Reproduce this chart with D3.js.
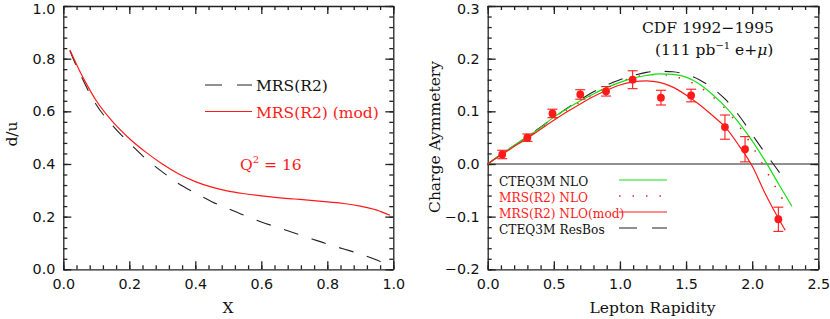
<!DOCTYPE html>
<html>
<head>
<meta charset="utf-8">
<script src="https://cdn.jsdelivr.net/npm/d3@7"></script>
<style>
  body { margin: 0; background: #fff; }
  svg text { font-family: "DejaVu Serif", serif; fill: #111; }
  .tick text { font-family: "DejaVu Sans", sans-serif; font-size: 14.3px; fill: #111; }
  .axis path, .axis line { stroke: #222; stroke-width: 1.3; }
</style>
</head>
<body>
<svg id="chart" width="830" height="319"></svg>
<script>
// ---------- left panel : d/u vs x ----------
var duX      = [0.02, 0.03, 0.05, 0.075, 0.10, 0.15, 0.20, 0.25, 0.30, 0.35, 0.40, 0.45,
                0.50, 0.55, 0.60, 0.65, 0.70, 0.75, 0.80, 0.85, 0.90, 0.95, 0.99];
var duMRS    = [0.830, 0.800, 0.745, 0.680, 0.625, 0.545, 0.480, 0.420, 0.370, 0.325, 0.290, 0.257,
                0.230, 0.204, 0.180, 0.159, 0.138, 0.117, 0.096, 0.077, 0.058, 0.035, 0.010];
var duMRSmod = [0.833, 0.805, 0.752, 0.693, 0.640, 0.560, 0.497, 0.445, 0.400, 0.362, 0.333, 0.312,
                0.297, 0.287, 0.279, 0.272, 0.267, 0.262, 0.256, 0.250, 0.240, 0.225, 0.205];
var leftXTicks = [0.0, 0.2, 0.4, 0.6, 0.8, 1.0];
var leftYTicks = [0.0, 0.2, 0.4, 0.6, 0.8, 1.0];

// ---------- right panel : charge asymmetry ----------
var rapX       = [0.0, 0.1, 0.2, 0.3, 0.4, 0.5, 0.6, 0.7, 0.8, 0.9, 1.0, 1.1, 1.2,
                  1.3, 1.4, 1.5, 1.6, 1.7, 1.8, 1.9, 2.0, 2.1, 2.2, 2.3];
var cteqNLO    = [0.000, 0.018, 0.035, 0.052, 0.069, 0.089, 0.105, 0.120, 0.133, 0.145, 0.155, 0.163, 0.168,
                  0.171, 0.170, 0.165, 0.152, 0.132, 0.108, 0.078, 0.044, 0.005, -0.038, -0.080];
var mrsX       = [0.0, 0.1, 0.2, 0.3, 0.4, 0.5, 0.6, 0.7, 0.8, 0.9, 1.0, 1.1, 1.2,
                  1.3, 1.4, 1.5, 1.6, 1.7, 1.8, 1.9, 2.0, 2.1, 2.2, 2.26];
var mrsNLO     = [0.000, 0.018, 0.035, 0.051, 0.068, 0.086, 0.103, 0.118, 0.132, 0.145, 0.156, 0.164, 0.169,
                  0.170, 0.167, 0.159, 0.147, 0.128, 0.104, 0.072, 0.034, -0.010, -0.054, -0.080];
var modX       = [0.0, 0.1, 0.2, 0.3, 0.4, 0.5, 0.6, 0.7, 0.8, 0.9, 1.0, 1.1, 1.2,
                  1.3, 1.4, 1.5, 1.6, 1.7, 1.8, 1.9, 2.0, 2.1, 2.2, 2.25];
var mrsNLOmod  = [0.000, 0.017, 0.033, 0.049, 0.066, 0.083, 0.099, 0.114, 0.128, 0.140, 0.150, 0.156, 0.158,
                  0.155, 0.146, 0.131, 0.113, 0.092, 0.069, 0.035, -0.004, -0.057, -0.104, -0.126];
var resbosX    = [0.0, 0.1, 0.2, 0.3, 0.4, 0.5, 0.6, 0.7, 0.8, 0.9, 1.0, 1.1, 1.2,
                  1.3, 1.4, 1.5, 1.6, 1.7, 1.8, 1.9, 2.0, 2.1, 2.2, 2.25];
var cteqResBos = [0.000, 0.018, 0.035, 0.052, 0.070, 0.088, 0.106, 0.122, 0.137, 0.150, 0.160, 0.168, 0.174,
                  0.176, 0.175, 0.170, 0.160, 0.144, 0.122, 0.092, 0.056, 0.020, -0.014, -0.033];
// CDF data points
var cdfY   = [0.11, 0.30, 0.49, 0.70, 0.895, 1.096, 1.31, 1.538, 1.794, 1.946, 2.198];
var cdfA   = [0.018, 0.050, 0.096, 0.132, 0.138, 0.160, 0.126, 0.130, 0.070, 0.028, -0.105];
var cdfErr = [0.008, 0.007, 0.008, 0.009, 0.009, 0.017, 0.014, 0.012, 0.023, 0.024, 0.023];
var rightXTicks = [0.0, 0.5, 1.0, 1.5, 2.0, 2.5];
var rightYTicks = [-0.2, -0.1, 0.0, 0.1, 0.2, 0.3];

var RED = "#ff1a1a", GREEN = "#14e014", BLACK = "#222";

var svg = d3.select("#chart");

/**
 * draw a framed panel with inward ticks on all four sides
 */
function drawFrame(x, y, xTicks, yTicks, xMinor, yMinor) {
  var g = svg.append("g");
  var r = x.range(), t = y.range();
  var fmt = d3.format(".1f");
  var bottom = g.append("g").attr("class", "axis").attr("transform", "translate(0," + t[0] + ")");
  bottom.call(d3.axisBottom(x).tickValues(xTicks).tickFormat(fmt).tickSizeInner(-8).tickSizeOuter(0).tickPadding(10));
  bottom.append("g").call(d3.axisBottom(x).tickValues(xMinor).tickFormat("").tickSizeInner(-4).tickSizeOuter(0))
    .select(".domain").remove();
  var top = g.append("g").attr("class", "axis").attr("transform", "translate(0," + t[1] + ")");
  top.call(d3.axisTop(x).tickValues(xTicks).tickFormat("").tickSizeInner(-8).tickSizeOuter(0));
  top.append("g").call(d3.axisTop(x).tickValues(xMinor).tickFormat("").tickSizeInner(-4).tickSizeOuter(0))
    .select(".domain").remove();
  var left = g.append("g").attr("class", "axis").attr("transform", "translate(" + r[0] + ",0)");
  left.call(d3.axisLeft(y).tickValues(yTicks).tickFormat(fmt).tickSizeInner(-8).tickSizeOuter(0).tickPadding(8));
  left.append("g").call(d3.axisLeft(y).tickValues(yMinor).tickFormat("").tickSizeInner(-4).tickSizeOuter(0))
    .select(".domain").remove();
  // keep the top label inside the picture
  left.selectAll(".tick text").filter(function(d) { return y(d) < 10; }).attr("dy", "0.5em");
  var right = g.append("g").attr("class", "axis").attr("transform", "translate(" + r[1] + ",0)");
  right.call(d3.axisRight(y).tickValues(yTicks).tickFormat("").tickSizeInner(-8).tickSizeOuter(0));
  right.append("g").call(d3.axisRight(y).tickValues(yMinor).tickFormat("").tickSizeInner(-4).tickSizeOuter(0))
    .select(".domain").remove();
  return g;
}

function minorTicks(lo, hi, step) {
  var out = [];
  var n = Math.round((hi - lo) / step);
  for (var i = 0; i <= n; i++) out.push(+(lo + i * step).toFixed(4));
  return out;
}

function drawCurve(x, y, xs, ys, color, width, dash) {
  var line = d3.line()
    .x(function(d, i) { return x(xs[i]); })
    .y(function(d) { return y(d); })
    .curve(d3.curveMonotoneX);
  var p = svg.append("path").datum(ys)
    .attr("d", line)
    .attr("fill", "none")
    .attr("stroke", color)
    .attr("stroke-width", width);
  if (dash) p.attr("stroke-dasharray", dash);
  return p;
}

// ---------- left panel ----------
(function() {
  var x = d3.scaleLinear().domain([0, 1]).range([63.3, 393.3]);
  var y = d3.scaleLinear().domain([0, 1]).range([269.3, 6]);
  drawFrame(x, y, leftXTicks, leftYTicks, minorTicks(0, 1, 0.04), minorTicks(0, 1, 0.04));

  drawCurve(x, y, duX, duMRS, BLACK, 1.1, "15,14");
  drawCurve(x, y, duX, duMRSmod, RED, 1.2);

  // legend
  var lg = svg.append("g");
  lg.append("line").attr("x1", 205).attr("x2", 252).attr("y1", 85).attr("y2", 85)
    .attr("stroke", BLACK).attr("stroke-width", 1.1).attr("stroke-dasharray", "17,15");
  lg.append("text").attr("x", 256).attr("y", 91).style("font-size", "15.5px").text("MRS(R2)");
  lg.append("line").attr("x1", 205).attr("x2", 252).attr("y1", 111.5).attr("y2", 111.5)
    .attr("stroke", RED).attr("stroke-width", 1.2);
  lg.append("text").attr("x", 256).attr("y", 118).style("font-size", "15.5px").style("fill", RED)
    .text("MRS(R2) (mod)");

  var q = svg.append("text").attr("x", 240).attr("y", 170).style("font-size", "15.5px").style("fill", RED);
  q.append("tspan").text("Q");
  q.append("tspan").attr("dy", -7).style("font-size", "10px").text("2");
  q.append("tspan").attr("dy", 7).text(" = 16");

  svg.append("text").attr("x", 228).attr("y", 313).attr("text-anchor", "middle")
    .style("font-size", "15.5px").text("X");
  svg.append("text").attr("transform", "translate(17,134) rotate(-90)").attr("text-anchor", "middle")
    .style("font-size", "15.5px").text("d/u");
})();

// ---------- right panel ----------
(function() {
  var x = d3.scaleLinear().domain([0, 2.5]).range([487.7, 818.3]);
  var y = d3.scaleLinear().domain([-0.2, 0.3]).range([269.3, 6]);
  drawFrame(x, y, rightXTicks, rightYTicks, minorTicks(0, 2.5, 0.1), minorTicks(-0.2, 0.3, 0.02));

  // zero line
  svg.append("line").attr("x1", x(0)).attr("x2", x(2.5)).attr("y1", y(0)).attr("y2", y(0))
    .attr("stroke", BLACK).attr("stroke-width", 1.2);

  drawCurve(x, y, resbosX, cteqResBos, BLACK, 1.1, "15,14");
  drawCurve(x, y, mrsX, mrsNLO, RED, 1.5, "1.5,12");
  drawCurve(x, y, rapX, cteqNLO, GREEN, 1.2);
  drawCurve(x, y, modX, mrsNLOmod, RED, 1.2);

  // data points with error bars
  var pts = svg.append("g").selectAll("g").data(cdfY).enter().append("g");
  pts.append("line")
    .attr("x1", function(d) { return x(d); }).attr("x2", function(d) { return x(d); })
    .attr("y1", function(d, i) { return y(cdfA[i] - cdfErr[i]); })
    .attr("y2", function(d, i) { return y(cdfA[i] + cdfErr[i]); })
    .attr("stroke", RED).attr("stroke-width", 1.1);
  [-1, 1].forEach(function(s) {
    pts.append("line")
      .attr("x1", function(d) { return x(d) - 5; }).attr("x2", function(d) { return x(d) + 5; })
      .attr("y1", function(d, i) { return y(cdfA[i] + s * cdfErr[i]); })
      .attr("y2", function(d, i) { return y(cdfA[i] + s * cdfErr[i]); })
      .attr("stroke", RED).attr("stroke-width", 1.1);
  });
  pts.append("circle")
    .attr("cx", function(d) { return x(d); })
    .attr("cy", function(d, i) { return y(cdfA[i]); })
    .attr("r", 3.9).attr("fill", RED);

  // legend
  var rows = [
    {label: "CTEQ3M NLO",       color: "#111", stroke: GREEN, dash: null,     w: 1.2},
    {label: "MRS(R2) NLO",      color: RED,    stroke: RED,   dash: "1.5,12", w: 1.5},
    {label: "MRS(R2) NLO(mod)", color: RED,    stroke: RED,   dash: null,     w: 1.2},
    {label: "CTEQ3M ResBos",    color: "#111", stroke: BLACK, dash: "18,15",  w: 1.1}
  ];
  var lg = svg.append("g").selectAll("g").data(rows).enter().append("g")
    .attr("transform", function(d, i) { return "translate(0," + (180 + i * 16) + ")"; });
  lg.append("line").attr("x1", 619).attr("x2", 667).attr("y1", 0).attr("y2", 0)
    .attr("stroke", function(d) { return d.stroke; })
    .attr("stroke-width", function(d) { return d.w; })
    .attr("stroke-dasharray", function(d) { return d.dash; });
  lg.append("text").attr("x", 499).attr("y", 5.5).style("font-size", "12.2px")
    .style("fill", function(d) { return d.color; })
    .text(function(d) { return d.label; });

  // CDF label
  svg.append("text").attr("x", 642).attr("y", 32.5).style("font-size", "15.5px").text("CDF 1992\u22121995");
  var t2 = svg.append("text").attr("x", 655).attr("y", 55).style("font-size", "15.5px");
  t2.append("tspan").text("(111 pb");
  t2.append("tspan").attr("dy", -6).style("font-size", "10px").text("\u22121");
  t2.append("tspan").attr("dy", 6).text(" e+");
  t2.append("tspan").style("font-style", "italic").text("\u03bc");
  t2.append("tspan").text(")");

  svg.append("text").attr("x", 652.5).attr("y", 313).attr("text-anchor", "middle")
    .style("font-size", "15.5px").text("Lepton Rapidity");
  svg.append("text").attr("transform", "translate(440,137) rotate(-90)").attr("text-anchor", "middle")
    .style("font-size", "15.5px").text("Charge Aymmetery");
})();
</script>
</body>
</html>
